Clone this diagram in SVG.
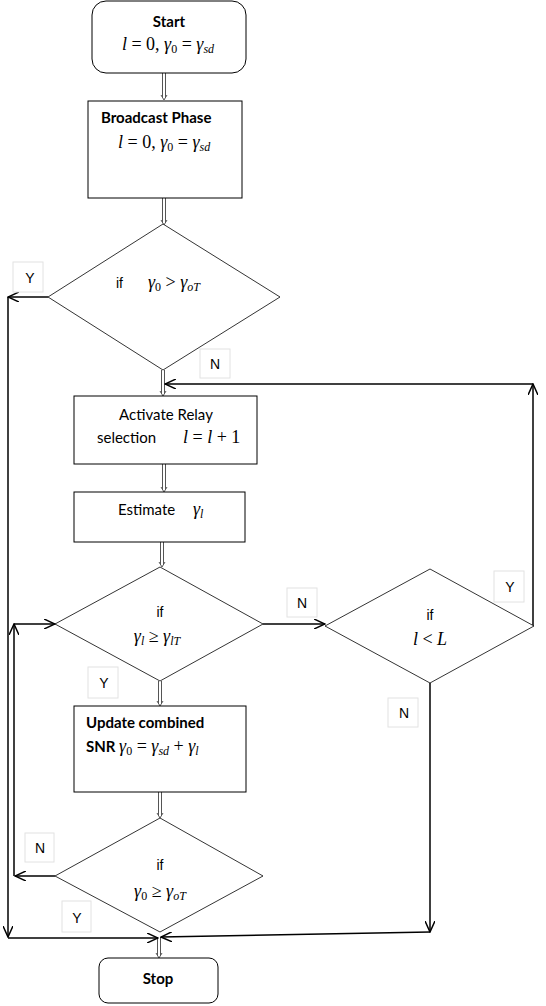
<svg xmlns="http://www.w3.org/2000/svg" width="546" height="1006" viewBox="0 0 546 1006">
<style>
.box{fill:#fff;stroke:#000;stroke-width:1}
.dia{fill:#fff;stroke:#000;stroke-width:0.8}
.lbl{fill:#fff;stroke:#e2e2e2;stroke-width:1}
.ln{fill:none;stroke:#000;stroke-width:1.5;marker-end:url(#ah)}
.dbl{fill:none;stroke:#555;stroke-width:1}
.t{font-family:Lato,"Liberation Sans",sans-serif;font-size:15px;fill:#000}
.b{font-weight:bold}
.a{font-family:"Liberation Sans",Arial,sans-serif;font-size:14px;fill:#000}
.m{font-family:"Liberation Serif","DejaVu Serif",serif;font-size:18px;fill:#000}
.i{font-style:italic}
.s{font-size:12px}
</style>
<defs>
<marker id="ah" viewBox="0 0 12 10" refX="11" refY="5" markerWidth="12" markerHeight="10" markerUnits="userSpaceOnUse" orient="auto">
<path d="M0,0 L11,5 L0,10" fill="none" stroke="#000" stroke-width="1.5"/>
</marker>
</defs>

<g id="connectors">
<g class="dbl">
<path d="M162.5,73 V98 M165.5,73 V98 M161,95 L164,100 L167,95"/>
<path d="M162.5,198 V223 M165.5,198 V223 M161,220 L164,225 L167,220"/>
<path d="M161.5,370 V394 M164.5,370 V394 M160,391 L163,396 L166,391"/>
<path d="M162.5,464 V490 M165.5,464 V490 M161,487 L164,492 L167,487"/>
<path d="M160.5,542 V565 M163.5,542 V565 M159,562 L162,567 L165,562"/>
<path d="M158.5,681 V704 M161.5,681 V704 M157,701 L160,706 L163,701"/>
<path d="M158.5,792 V816 M161.5,792 V816 M157,813 L160,818 L163,813"/>
<path d="M157.5,937 V956 M160.5,937 V956 M156,953 L159,958 L162,953"/>
</g>
<path class="ln" d="M48,297 H8"/>
<path class="ln" d="M8,297 V937"/>
<path class="ln" d="M8,938 H158"/>
<path class="ln" d="M533,626 V384"/>
<path class="ln" d="M533,384 H165"/>
<path class="ln" d="M263,624 H325"/>
<path class="ln" d="M430,683 V932"/>
<path class="ln" d="M430,932 L161,937"/>
<path class="ln" d="M55,876 H15"/>
<path class="ln" d="M14,876 V624"/>
<path class="ln" d="M14,624 H55"/>
</g>

<g id="labels">
<rect class="lbl" x="13" y="262" width="30" height="30"/>
<text class="a" x="30" y="283" text-anchor="middle">Y</text>
<rect class="lbl" x="200" y="349" width="30" height="29"/>
<text class="a" x="215" y="369" text-anchor="middle">N</text>
<rect class="lbl" x="287" y="588" width="30" height="29"/>
<text class="a" x="302" y="608" text-anchor="middle">N</text>
<rect class="lbl" x="494" y="571" width="30" height="31"/>
<text class="a" x="510" y="592" text-anchor="middle">Y</text>
<rect class="lbl" x="88" y="667" width="30" height="31"/>
<text class="a" x="104" y="688" text-anchor="middle">Y</text>
<rect class="lbl" x="388" y="698" width="30" height="29"/>
<text class="a" x="404" y="718" text-anchor="middle">N</text>
<rect class="lbl" x="25" y="833" width="29" height="29"/>
<text class="a" x="40" y="853" text-anchor="middle">N</text>
<rect class="lbl" x="62" y="901" width="29" height="31"/>
<text class="a" x="77" y="923" text-anchor="middle">Y</text>
</g>

<g id="start">
<rect class="box" x="92" y="1" width="154" height="72" rx="14"/>
<text class="t b" x="169" y="27" text-anchor="middle">Start</text>
<text class="m" x="168" y="50" text-anchor="middle"><tspan class="i">l</tspan> = 0, <tspan class="i">γ</tspan><tspan class="s" dy="3">0</tspan><tspan dy="-3"> = </tspan><tspan class="i">γ</tspan><tspan class="s i" dy="3">sd</tspan></text>
</g>

<g id="broadcast">
<rect class="box" x="88" y="101" width="154" height="97"/>
<text class="t b" x="101" y="123">Broadcast Phase</text>
<text class="m" x="118" y="148"><tspan class="i">l</tspan> = 0, <tspan class="i">γ</tspan><tspan class="s" dy="3">0</tspan><tspan dy="-3"> = </tspan><tspan class="i">γ</tspan><tspan class="s i" dy="3">sd</tspan></text>
</g>

<g id="decision1">
<polygon class="dia" points="163,224 280,297 163,370 48,297"/>
<text class="a" x="116" y="288" font-size="16">if</text>
<text class="m" x="148" y="288"><tspan class="i">γ</tspan><tspan class="s" dy="3">0</tspan><tspan dy="-3"> &gt; </tspan><tspan class="i">γ</tspan><tspan class="s i" dy="3">oT</tspan></text>
</g>

<g id="activate">
<rect class="box" x="74" y="396" width="183" height="68"/>
<text class="t" x="166" y="420" text-anchor="middle">Activate Relay</text>
<text class="t" x="97" y="443">selection</text>
<text class="m" x="183" y="443"><tspan class="i">l</tspan> = <tspan class="i">l</tspan> + 1</text>
</g>

<g id="estimate">
<rect class="box" x="74" y="492" width="171" height="50"/>
<text class="t" x="118" y="515">Estimate</text>
<text class="m" x="193" y="515"><tspan class="i">γ</tspan><tspan class="s i" dy="3">l</tspan></text>
</g>

<g id="decision2">
<polygon class="dia" points="160,567 263,624 160,681 55,624"/>
<text class="a" x="160" y="617" text-anchor="middle" font-size="16">if</text>
<text class="m" x="157" y="642" text-anchor="middle"><tspan class="i">γ</tspan><tspan class="s i" dy="3">l</tspan><tspan dy="-3">  ≥ </tspan><tspan class="i">γ</tspan><tspan class="s i" dy="3">lT</tspan></text>
</g>

<g id="decision3">
<polygon class="dia" points="430,569 534,626 430,683 325,626"/>
<text class="a" x="430" y="620" text-anchor="middle" font-size="16">if</text>
<text class="m" x="430" y="645" text-anchor="middle"><tspan class="i">l</tspan> &lt; <tspan class="i">L</tspan></text>
</g>

<g id="update">
<rect class="box" x="74" y="706" width="172" height="86"/>
<text class="t b" x="86" y="728">Update combined</text>
<text class="t b" x="86" y="752">SNR <tspan class="m" font-weight="normal"><tspan class="i">γ</tspan><tspan class="s" dy="3">0</tspan><tspan dy="-3"> = </tspan><tspan class="i">γ</tspan><tspan class="s i" dy="3">sd</tspan><tspan dy="-3"> + </tspan><tspan class="i">γ</tspan><tspan class="s i" dy="3">l</tspan></tspan></text>
</g>

<g id="decision4">
<polygon class="dia" points="160,818 263,876 160,932 55,876"/>
<text class="a" x="160" y="870" text-anchor="middle" font-size="16">if</text>
<text class="m" x="160" y="897" text-anchor="middle"><tspan class="i">γ</tspan><tspan class="s" dy="3">0</tspan><tspan dy="-3"> ≥ </tspan><tspan class="i">γ</tspan><tspan class="s i" dy="3">oT</tspan></text>
</g>

<g id="stop">
<rect class="box" x="99" y="958" width="119" height="45" rx="9"/>
<text class="t b" x="158" y="984" text-anchor="middle">Stop</text>
</g>
</svg>
